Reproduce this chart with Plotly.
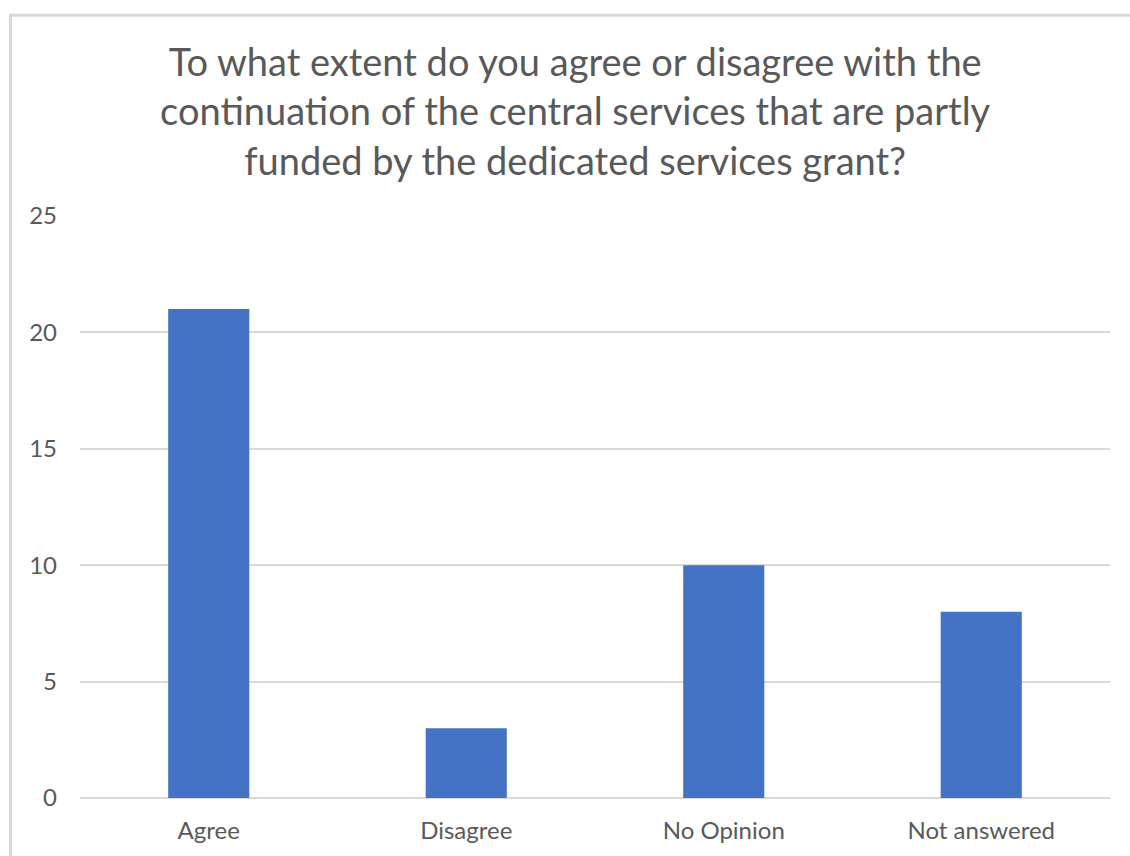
import plotly.graph_objects as go

categories = ["Agree", "Disagree", "No Opinion", "Not answered"]
responses = [21, 3, 10, 8]
y_ticks = [0, 5, 10, 15, 20, 25]
title_lines = [
    "To what extent do you agree or disagree with the",
    "continuation of the central services that are partly",
    "funded by the dedicated services grant?",
]

TEXT = "#595959"
GRID = "#d9d9d9"
FONT = "Lato, Calibri, Carlito, sans-serif"

fig = go.Figure(
    go.Bar(
        x=categories,
        y=responses,
        marker=dict(color="#4472C4", line=dict(width=0)),
        width=0.315,
    )
)

fig.update_layout(
    width=1130,
    height=856,
    paper_bgcolor="white",
    plot_bgcolor="white",
    showlegend=False,
    margin=dict(l=80, r=20, t=216, b=56),
    title=dict(
        text="<br>".join(title_lines),
        x=0.509,
        xanchor="center",
        xref="container",
        y=1 - 76 / 856,
        yanchor="top",
        yref="container",
        font=dict(family=FONT, size=38, color=TEXT),
    ),
    font=dict(family=FONT, color=TEXT),
)

fig.update_xaxes(
    showgrid=False,
    showline=False,
    ticks="",
    ticklabelstandoff=16,
    tickfont=dict(family=FONT, size=24, color=TEXT),
)
fig.update_yaxes(
    range=[0, 25],
    tickvals=y_ticks,
    showgrid=True,
    gridcolor=GRID,
    gridwidth=2,
    zeroline=True,
    zerolinecolor=GRID,
    zerolinewidth=2,
    showline=False,
    ticks="",
    ticklabelstandoff=22,
    tickfont=dict(family=FONT, size=24, color=TEXT),
)

# chart frame border
fig.add_shape(
    type="rect",
    xref="paper",
    yref="paper",
    x0=(10.5 - 80) / 1030,
    x1=(1140 - 80) / 1030,
    y0=(800 - 870) / 584,
    y1=(800 - 14.5) / 584,
    line=dict(color=GRID, width=3),
    fillcolor="rgba(0,0,0,0)",
    layer="below",
)

fig.write_html("out.html")
